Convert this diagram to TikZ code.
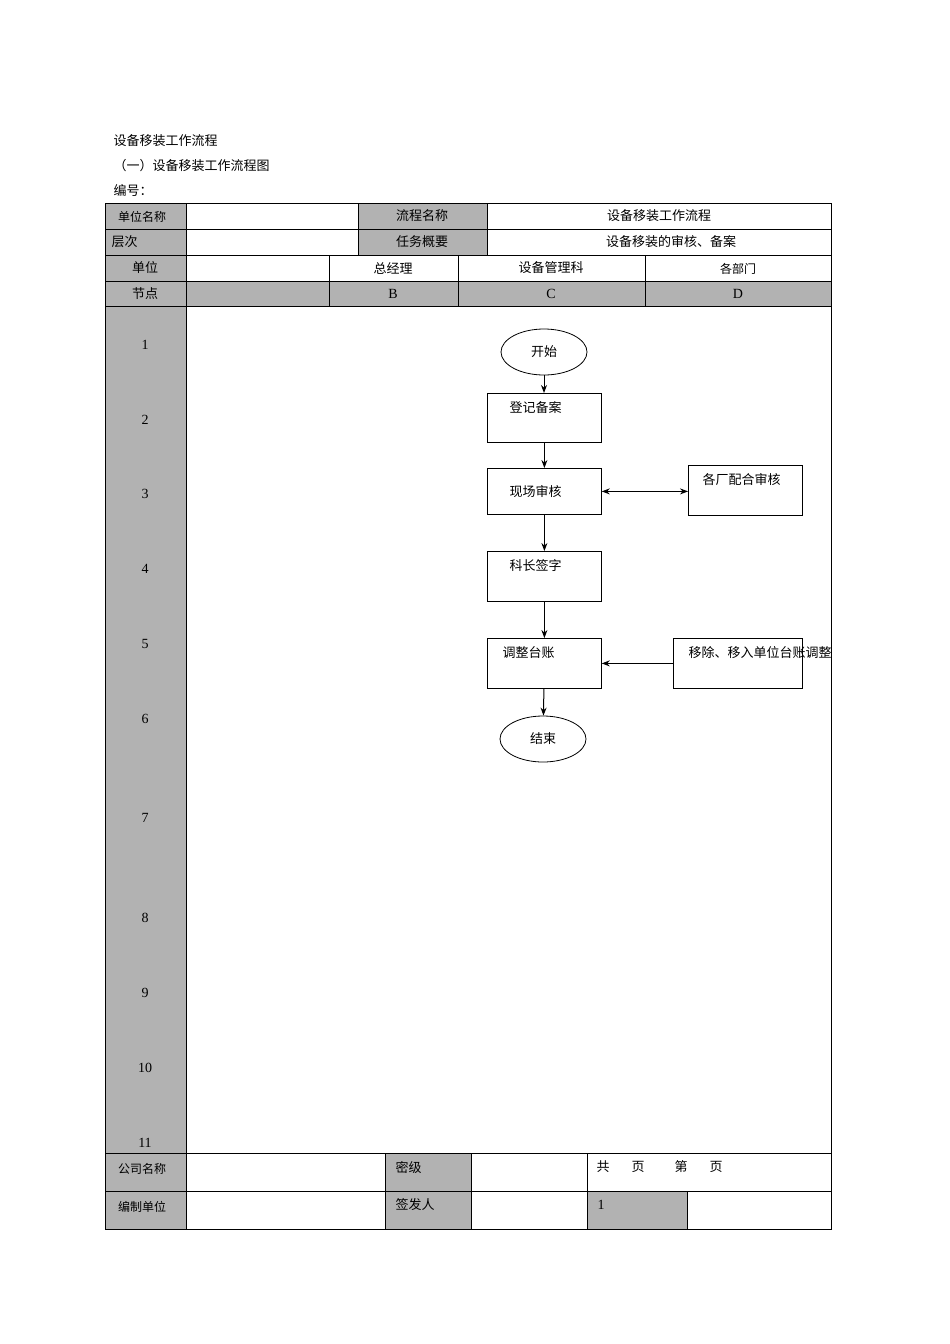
\documentclass[tikz,border=0pt]{standalone}
\usepackage{fontspec}
\setmainfont{Liberation Serif}
\newfontfamily\cjk{Noto Sans CJK SC}
\usetikzlibrary{shapes.geometric,arrows.meta}
\begin{document}
\begin{tikzpicture}[x=1pt,y=-1pt,
  every node/.style={font=\cjk\fontsize{13}{15}\selectfont},
  cell/.style={draw=black,line width=0.8pt},
  grey/.style={cell,fill=black!30},
  box/.style={draw,line width=0.8pt,minimum width=114pt,minimum height=49pt,text width=100pt,align=left,inner sep=0pt},
  term/.style={draw,ellipse,line width=0.8pt,minimum width=86pt,minimum height=46pt},
  arr/.style={-{Stealth[length=8pt,width=6pt]},line width=1pt}]
\useasboundingbox (0,0) rectangle (950,1344);
\node[anchor=west] (t1) at (110,141) {设备移装工作流程};
\node[anchor=west] (t2) at (110,166) {（一）设备移装工作流程图};
\node[anchor=west] (t3) at (110,191) {编号：};
% header rows
\draw[grey] (105,203) rectangle (186,229);
\draw[cell] (186,203) rectangle (358,229);
\draw[grey] (358,203) rectangle (487,229);
\draw[cell] (487,203) rectangle (831,229);
\draw[grey] (105,229) rectangle (186,255);
\draw[cell] (186,229) rectangle (358,255);
\draw[grey] (358,229) rectangle (487,255);
\draw[cell] (487,229) rectangle (831,255);
\draw[grey] (105,255) rectangle (186,281);
\draw[cell] (186,255) rectangle (329,281);
\draw[cell] (329,255) rectangle (458,281);
\draw[cell] (458,255) rectangle (645,281);
\draw[cell] (645,255) rectangle (831,281);
\foreach \a/\b in {105/186,186/329,329/458,458/645,645/831}{\draw[grey] (\a,281) rectangle (\b,306);}
\node (h1) at (142,217) {\fontsize{12}{14}\selectfont 单位名称};
\node (h2) at (422,216) {流程名称};
\node (h3) at (659,216) {设备移装工作流程};
\node[anchor=west] (h4) at (108,242) {层次};
\node (h5) at (422,242) {任务概要};
\node (h6) at (671,242) {设备移装的审核、备案};
\node (h7) at (145,268) {单位};
\node (h8) at (393,268) {总经理};
\node (h9) at (551,268) {设备管理科};
\node (h10) at (738,269) {\fontsize{12}{14}\selectfont 各部门};
\node (h11) at (145,294) {节点};
\node[font=\rmfamily\fontsize{14}{16}\selectfont] (hb) at (393,294) {B};
\node[font=\rmfamily\fontsize{14}{16}\selectfont] (hc) at (551,294) {C};
\node[font=\rmfamily\fontsize{14}{16}\selectfont] (hd) at (738,294) {D};
% main area
\draw[grey] (105,306) rectangle (186,1153);
\draw[cell] (186,306) rectangle (831,1153);
\foreach \n/\y in {1/345,2/420,3/494,4/569,5/644,6/719,7/818,8/918,9/993,10/1068,11/1143}{
  \node[font=\rmfamily\fontsize{14}{16}\selectfont] (n\n) at (145,\y) {\n};}
% bottom
\draw[grey] (105,1153) rectangle (186,1191);
\draw[cell] (186,1153) rectangle (385,1191);
\draw[grey] (385,1153) rectangle (471,1191);
\draw[cell] (471,1153) rectangle (587,1191);
\draw[cell] (587,1153) rectangle (831,1191);
\draw[grey] (105,1191) rectangle (186,1229);
\draw[cell] (186,1191) rectangle (385,1229);
\draw[grey] (385,1191) rectangle (471,1229);
\draw[cell] (471,1191) rectangle (587,1229);
\draw[grey] (587,1191) rectangle (687,1229);
\draw[cell] (687,1191) rectangle (831,1229);
\node (b1) at (142,1169) {\fontsize{12}{14}\selectfont 公司名称};
\node[anchor=west] (b2) at (392,1167) {密级};
\node[anchor=west] (b3) at (593,1167) {共\hspace{22pt}页\hspace{30pt}第\hspace{22pt}页};
\node (b4) at (142,1207) {\fontsize{12}{14}\selectfont 编制单位};
\node[anchor=west] (b5) at (392,1205) {签发人};
\node[anchor=west,font=\rmfamily\fontsize{14}{16}\selectfont] (b6) at (594,1205) {1};
% flowchart
\node[term] (start) at (544,352) {开始};
\node[box,anchor=north west,minimum height=49pt] (s1) at (487,393) {};
\node[anchor=north west] at (506,398) {登记备案};
\node[box,anchor=north west,minimum height=46pt] (s2) at (487,468) {};
\node[anchor=west] at (506,492) {现场审核};
\node[box,anchor=north west,minimum height=50pt] (s2b) at (688,465) {};
\node[anchor=north west,text width=92pt,align=left] at (699,470) {各厂配合审核};
\node[box,anchor=north west,minimum height=50pt] (s3) at (487,551) {};
\node[anchor=north west] at (506,556) {科长签字};
\node[box,anchor=north west,minimum height=50pt] (s4) at (487,638) {};
\node[anchor=north west] at (499,643) {调整台账};
\node[box,anchor=north west,minimum width=129pt,minimum height=50pt] (s4b) at (673,638) {};
\node[anchor=north west,text width=110pt,align=left] at (685,643) {移除、移入单位台账调整};
\node[term] (end) at (543,739) {结束};
\draw[arr] (start) -- (s1.north -| start);
\draw[arr] (s1) -- (s2);
\draw[arr] (s2) -- (s3);
\draw[arr] (s3) -- (s4);
\draw[arr] (s4) -- (end);
\draw[arr,{Stealth[length=8pt,width=6pt]}-{Stealth[length=8pt,width=6pt]}] (s2.east) -- (s2b.west |- s2.east);
\draw[arr] (s4b.west |- s4.east) -- (s4.east);
\end{tikzpicture}
\end{document}
